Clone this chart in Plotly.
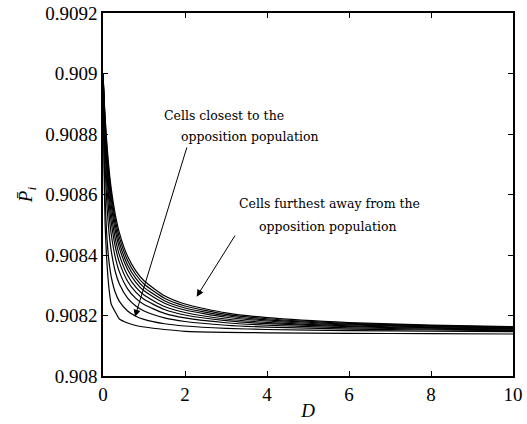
import plotly.graph_objects as go

# Diffusion coefficient samples
D = [0, 0.025, 0.05, 0.1, 0.15, 0.2, 0.3, 0.4, 0.6, 0.8, 1.0, 1.5, 2, 3, 4, 6, 8, 10]

# Mean probability per cell, from furthest (top) to closest (bottom) to the opposition population
cell_1 = [0.9090, 0.9089236, 0.9088588, 0.9087567, 0.9086800, 0.9086204, 0.9085338, 0.9084733, 0.9083957,
          0.9083474, 0.9083147, 0.9082654, 0.9082380, 0.9082085, 0.9081928, 0.9081766, 0.9081682, 0.9081632]
cell_2 = [0.9090, 0.9089180, 0.9088492, 0.9087428, 0.9086641, 0.9086036, 0.9085170, 0.9084575, 0.9083818,
          0.9083355, 0.9083041, 0.9082571, 0.9082314, 0.9082038, 0.9081892, 0.9081741, 0.9081663, 0.9081616]
cell_3 = [0.9090, 0.9089114, 0.9088383, 0.9087269, 0.9086466, 0.9085854, 0.9084991, 0.9084406, 0.9083672,
          0.9083229, 0.9082930, 0.9082489, 0.9082247, 0.9081991, 0.9081855, 0.9081716, 0.9081644, 0.9081600]
cell_4 = [0.9090, 0.9089034, 0.9088254, 0.9087094, 0.9086267, 0.9085652, 0.9084796, 0.9084228, 0.9083520,
          0.9083097, 0.9082816, 0.9082406, 0.9082181, 0.9081943, 0.9081819, 0.9081690, 0.9081625, 0.9081585]
cell_5 = [0.9090, 0.9088919, 0.9088072, 0.9086846, 0.9086000, 0.9085381, 0.9084542, 0.9083996, 0.9083328,
          0.9082935, 0.9082677, 0.9082300, 0.9082099, 0.9081884, 0.9081773, 0.9081659, 0.9081601, 0.9081565]
cell_6 = [0.9090, 0.9088780, 0.9087857, 0.9086565, 0.9085702, 0.9085090, 0.9084274, 0.9083755, 0.9083130,
          0.9082770, 0.9082535, 0.9082198, 0.9082017, 0.9081828, 0.9081730, 0.9081629, 0.9081578, 0.9081547]
cell_7 = [0.9090, 0.9088565, 0.9087533, 0.9086162, 0.9085292, 0.9084694, 0.9083920, 0.9083441, 0.9082882,
          0.9082565, 0.9082363, 0.9082072, 0.9081919, 0.9081760, 0.9081678, 0.9081594, 0.9081551, 0.9081525]
cell_8 = [0.9090, 0.9088188, 0.9087001, 0.9085553, 0.9084700, 0.9084142, 0.9083447, 0.9083038, 0.9082571,
          0.9082314, 0.9082148, 0.9081921, 0.9081801, 0.9081678, 0.9081615, 0.9081552, 0.9081520, 0.9081500]
cell_9 = [0.9090, 0.9087345, 0.9085940, 0.9084486, 0.9083738, 0.9083285, 0.9082760, 0.9082466, 0.9082148,
          0.9081978, 0.9081872, 0.9081727, 0.9081653, 0.9081577, 0.9081538, 0.9081500, 0.9081480, 0.9081468]
cell_10 = [0.9090, 0.9086975, 0.9085091, 0.9083669, 0.9082843, 0.9082380, 0.9082116, 0.9081884, 0.9081752,
           0.9081669, 0.9081620, 0.9081537, 0.9081478, 0.9081445, 0.9081428, 0.9081412, 0.9081398, 0.9081388]

series = [cell_1, cell_2, cell_3, cell_4, cell_5, cell_6, cell_7, cell_8, cell_9, cell_10]

x_ticks = [0, 2, 4, 6, 8, 10]
y_ticks = [0.908, 0.9082, 0.9084, 0.9086, 0.9088, 0.909, 0.9092]
y_tick_labels = ["0.908", "0.9082", "0.9084", "0.9086", "0.9088", "0.909", "0.9092"]

fig = go.Figure()
for s in series:
    fig.add_trace(go.Scatter(x=D, y=s, mode="lines",
                             line=dict(color="black", width=1.2, shape="spline", smoothing=0.6),
                             showlegend=False, hoverinfo="skip"))

tick_font = dict(family="Liberation Serif", size=19, color="black")
ann_font = dict(family="DejaVu Serif", size=12.5, color="black", weight=300)

fig.update_layout(
    width=527, height=424,
    margin=dict(l=103, r=14, t=13, b=48, autoexpand=False),
    paper_bgcolor="white", plot_bgcolor="white",
    font=dict(family="Liberation Serif", color="black"),
    xaxis=dict(range=[0, 10], tickvals=x_ticks, ticks="inside", ticklen=5, tickwidth=1,
               tickcolor="black", showline=True, linecolor="black", linewidth=1.5, mirror="ticks",
               showgrid=False, zeroline=False, tickfont=tick_font,
               automargin=False,
               title=dict(text="<i>D</i>", font=tick_font, standoff=0)),
    yaxis=dict(range=[0.908, 0.9092], tickvals=y_ticks, ticktext=y_tick_labels, ticks="inside",
               ticklen=5, tickwidth=1, tickcolor="black", showline=True, linecolor="black",
               linewidth=1.5, mirror="ticks", showgrid=False, zeroline=False, tickfont=tick_font,
               automargin=False,
               title=dict(text="<i>P\u0304</i><sub><i>i</i></sub>", font=tick_font, standoff=8)),
)

# Text labels
fig.add_annotation(x=1.43, y=0.9088628, text="Cells closest to the", showarrow=False,
                   xanchor="left", yanchor="middle", font=ann_font)
fig.add_annotation(x=1.854, y=0.9087911, text="opposition population", showarrow=False,
                   xanchor="left", yanchor="middle", font=ann_font)
fig.add_annotation(x=3.276, y=0.9085709, text="Cells furthest away from the", showarrow=False,
                   xanchor="left", yanchor="middle", font=ann_font)
fig.add_annotation(x=3.763, y=0.9084936, text="opposition population", showarrow=False,
                   xanchor="left", yanchor="middle", font=ann_font)

# Arrows
fig.add_annotation(x=0.78, y=0.9081960, ax=2.056, ay=0.9087603, axref="x", ayref="y",
                   xref="x", yref="y", text="", showarrow=True, arrowhead=2, arrowsize=1.4,
                   arrowwidth=1, arrowcolor="black")
fig.add_annotation(x=2.285, y=0.9082622, ax=3.244, ay=0.9084694, axref="x", ayref="y",
                   xref="x", yref="y", text="", showarrow=True, arrowhead=2, arrowsize=1.4,
                   arrowwidth=1, arrowcolor="black")

fig.write_html("out.html")
